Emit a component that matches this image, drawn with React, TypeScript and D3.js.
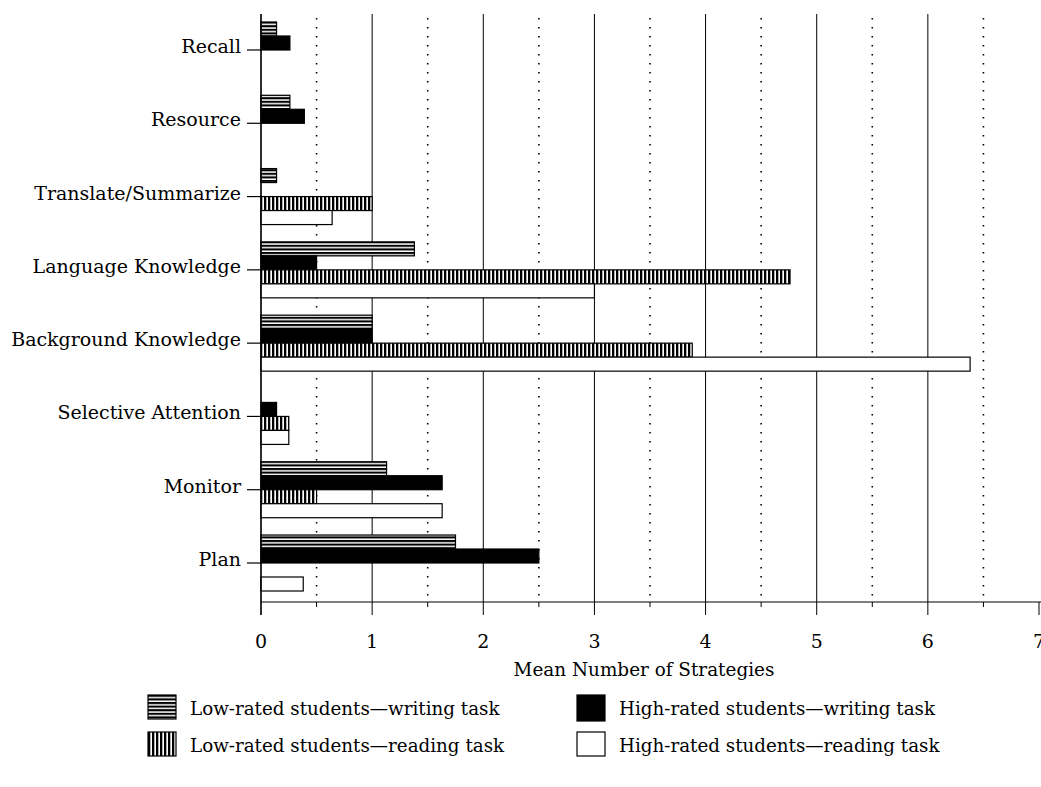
import React from "react";
import * as d3 from "d3";

const categories = [
  "Recall",
  "Resource",
  "Translate/Summarize",
  "Language Knowledge",
  "Background Knowledge",
  "Selective Attention",
  "Monitor",
  "Plan",
];
const seriesKeys = ["lowWriting", "highWriting", "lowReading", "highReading"];
const seriesNames = [
  "Low-rated students—writing task",
  "High-rated students—writing task",
  "Low-rated students—reading task",
  "High-rated students—reading task",
];
const lowWriting = [0.14, 0.26, 0.14, 1.38, 1.0, 0, 1.13, 1.75];
const highWriting = [0.26, 0.39, 0, 0.5, 1.0, 0.14, 1.63, 2.5];
const lowReading = [0, 0, 1.0, 4.76, 3.88, 0.25, 0.5, 0];
const highReading = [0, 0, 0.64, 3.0, 6.38, 0.25, 1.63, 0.38];
const xTicks = [0, 1, 2, 3, 4, 5, 6, 7];
const xHalfTicks = [0.5, 1.5, 2.5, 3.5, 4.5, 5.5, 6.5];
const xTitle = "Mean Number of Strategies";

const seriesValues = [lowWriting, highWriting, lowReading, highReading];
const fills = ["url(#hstripe)", "#000", "url(#vstripe)", "#fff"];

const FONT = "'DejaVu Serif', 'Liberation Serif', serif";

export default function App() {
  const W = 1041;
  const H = 787;
  const plotTop = 14;
  const axisY = 602;
  const x = d3.scaleLinear().domain([0, 7]).range([261, 1039]);
  const y = d3
    .scaleBand<string>()
    .domain(categories)
    .range([22, 591])
    .paddingInner(0.236)
    .paddingOuter(0);
  const ys = d3
    .scaleBand<string>()
    .domain(seriesKeys)
    .range([0, y.bandwidth()]);

  const legendItems = [
    { i: 0, lx: 148, ly: 695 },
    { i: 2, lx: 148, ly: 732 },
    { i: 1, lx: 577, ly: 695 },
    { i: 3, lx: 577, ly: 732 },
  ];

  return (
    <svg
      width={W}
      height={H}
      style={{ position: "absolute", left: 0, top: 0, background: "#fff" }}
    >
      <defs>
        <pattern id="hstripe" patternUnits="userSpaceOnUse" width={8} height={3.6}>
          <rect x={0} y={0} width={8} height={3.6} fill="#fff" />
          <rect x={0} y={0} width={8} height={2.1} fill="#000" />
        </pattern>
        <pattern id="vstripe" patternUnits="userSpaceOnUse" width={4} height={8}>
          <rect x={0} y={0} width={4} height={8} fill="#fff" />
          <rect x={0} y={0} width={2.3} height={8} fill="#000" />
        </pattern>
      </defs>

      {/* dotted half gridlines */}
      {xHalfTicks.map((t) => (
        <g key={"h" + t}>
          <line
            x1={x(t)}
            x2={x(t)}
            y1={plotTop + 4}
            y2={axisY}
            stroke="#000"
            strokeWidth={1.6}
            strokeDasharray="1.6,7.4"
          />
          <line x1={x(t)} x2={x(t)} y1={axisY} y2={axisY + 5} stroke="#000" strokeWidth={1} />
        </g>
      ))}
      {/* solid integer gridlines */}
      {xTicks.map((t) => (
        <line
          key={"g" + t}
          x1={x(t)}
          x2={x(t)}
          y1={t === 7 ? axisY : plotTop}
          y2={axisY + 13}
          stroke="#000"
          strokeWidth={1}
        />
      ))}
      {/* x axis line */}
      <line x1={x(0)} x2={W} y1={axisY} y2={axisY} stroke="#000" strokeWidth={1.2} />

      {/* bars */}
      {categories.map((c, ci) => (
        <g key={c}>
          {seriesKeys.map((k, si) => {
            const v = seriesValues[si][ci];
            if (!v) return null;
            return (
              <rect
                key={k}
                x={x(0)}
                y={(y(c) as number) + (ys(k) as number)}
                width={x(v) - x(0)}
                height={ys.bandwidth()}
                fill={fills[si]}
                stroke="#000"
                strokeWidth={1.2}
              />
            );
          })}
        </g>
      ))}

      {/* y axis line */}
      <line x1={x(0)} x2={x(0)} y1={plotTop} y2={axisY + 13} stroke="#000" strokeWidth={1.3} />

      {/* category ticks & labels */}
      {categories.map((c) => {
        const cy = (y(c) as number) + y.bandwidth() / 2;
        return (
          <g key={"l" + c}>
            <line x1={x(0) - 14} x2={x(0)} y1={cy} y2={cy} stroke="#000" strokeWidth={1.2} />
            <text
              x={x(0) - 20}
              y={cy + 3}
              textAnchor="end"
              fontFamily={FONT}
              fontSize={19}
              fill="#000"
            >
              {c}
            </text>
          </g>
        );
      })}

      {/* x tick labels */}
      {xTicks.map((t) => (
        <text
          key={"t" + t}
          x={x(t)}
          y={648}
          textAnchor="middle"
          fontFamily={FONT}
          fontSize={19}
          fill="#000"
        >
          {t}
        </text>
      ))}
      <text
        x={(x(0) + x(7)) / 2 - 6}
        y={676}
        textAnchor="middle"
        fontFamily={FONT}
        fontSize={18.4}
        fill="#000"
      >
        {xTitle}
      </text>

      {/* legend */}
      {legendItems.map(({ i, lx, ly }) => (
        <g key={"lg" + i}>
          <rect
            x={lx}
            y={ly}
            width={28}
            height={i === 1 ? 26 : 24}
            fill={fills[i]}
            stroke="#000"
            strokeWidth={1.2}
          />
          <text
            x={lx + 42}
            y={ly + 20}
            fontFamily={FONT}
            fontSize={18.3}
            fill="#000"
          >
            {seriesNames[i]}
          </text>
        </g>
      ))}
    </svg>
  );
}
